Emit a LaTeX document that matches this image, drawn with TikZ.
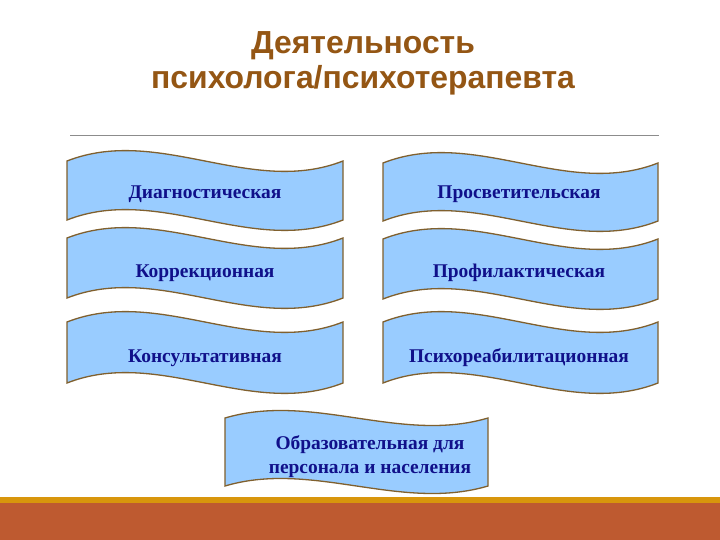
\documentclass[tikz,border=0pt]{standalone}
\usepackage{fontspec}
\setmainfont{Liberation Serif}
\newfontfamily\titlefont{Liberation Sans}
\definecolor{titlebrown}{HTML}{945614}
\definecolor{wavefill}{HTML}{99CCFF}
\definecolor{waveedge}{HTML}{80602E}
\definecolor{labelblue}{HTML}{10108A}
\definecolor{bandgold}{HTML}{D8960C}
\definecolor{bandrust}{HTML}{BE5A30}
\tikzset{
  wave/.style={draw=waveedge, fill=wavefill, line width=1.3bp},
  lbl/.style={font=\bfseries\fontsize{19.5}{24}\selectfont, text=labelblue, inner sep=0pt, align=center},
  ttl/.style={font=\titlefont\bfseries\fontsize{32}{38}\selectfont, text=titlebrown, inner sep=0pt, anchor=base}
}
% #1 x0, #2 y top, #3 x1, #4 y bottom, #5 control height
\newcommand\wavepath[5]{%
  \draw[wave] (#1,#2) .. controls ({#1+(#3-#1)/3},{#2-#5}) and ({#1+2*(#3-#1)/3},{#2+#5}) .. (#3,#2)
    -- (#3,#4) .. controls ({#1+2*(#3-#1)/3},{#4+#5}) and ({#1+(#3-#1)/3},{#4-#5}) .. (#1,#4) -- cycle;}
\begin{document}
\begin{tikzpicture}[x=1bp,y=-1bp]
\useasboundingbox (0,0) rectangle (720,540);
\fill[white] (0,0) rectangle (720,540);
% title
\node[ttl] (t1) at (363,54) {Деятельность};
\node[ttl] (t2) at (363,89) {психолога/психотерапевта};
\draw[gray!90, line width=1bp] (70,136) -- (659,136);
% waves
\wavepath{67}{161}{343}{220}{36}
\wavepath{383}{163}{658}{221}{36}
\wavepath{67}{238}{343}{298}{36}
\wavepath{383}{239}{658}{299}{36}
\wavepath{67}{322}{343}{383}{36}
\wavepath{383}{322}{658}{383}{36}
\wavepath{225}{418}{488}{486}{26}
% labels
\node[lbl] (a) at (205,194) {Диагностическая};
\node[lbl] (b) at (519,194) {Просветительская};
\node[lbl] (c) at (205,273) {Коррекционная};
\node[lbl] (d) at (519,273) {Профилактическая};
\node[lbl] (e) at (205,358) {Консультативная};
\node[lbl] (f) at (519,358) {Психореабилитационная};
\node[lbl] (g) at (370,456.5) {Образовательная для\\персонала и населения};
% bottom band
\fill[bandgold] (0,497) rectangle (720,503);
\fill[bandrust] (0,503) rectangle (720,540);
\end{tikzpicture}
\end{document}
